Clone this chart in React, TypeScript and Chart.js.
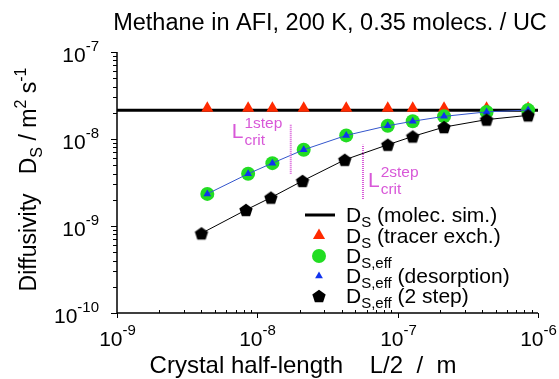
import React, { useEffect, useRef } from 'react';
import { Chart, registerables } from 'chart.js';

Chart.register(...registerables);

const W = 559;
const H = 379;

// ---- data ----
const crystalHalfLength = [4.4e-9, 8.6e-9, 1.28e-8, 2.14e-8, 4.3e-8, 8.5e-8, 1.28e-7, 2.14e-7, 4.3e-7, 8.5e-7];
const molecSimX = [1e-9, 1e-6];
const molecSimY = [2.14e-8, 2.14e-8];
const dsTracer = [2.25e-8, 2.25e-8, 2.25e-8, 2.25e-8, 2.25e-8, 2.25e-8, 2.25e-8, 2.25e-8, 2.25e-8, 2.25e-8];
const dsEff = [2.34e-9, 3.98e-9, 5.28e-9, 7.53e-9, 1.1e-8, 1.42e-8, 1.6e-8, 1.82e-8, 2.05e-8, 2.15e-8];
const dsEffDesorption = [2.34e-9, 3.98e-9, 5.28e-9, 7.53e-9, 1.1e-8, 1.42e-8, 1.6e-8, 1.82e-8, 2.05e-8, 2.15e-8];
const crystalHalfLength2Step = [4.0e-9, 8.3e-9, 1.25e-8, 2.1e-8, 4.2e-8, 8.5e-8, 1.28e-7, 2.14e-7, 4.3e-7, 8.5e-7];
const dsEff2Step = [8.24e-10, 1.53e-9, 2.12e-9, 3.3e-9, 5.77e-9, 8.59e-9, 1.07e-8, 1.37e-8, 1.67e-8, 1.87e-8];
const lCrit1StepX = [1.73e-8, 1.73e-8];
const lCrit1StepY = [3.98e-9, 1.5e-8];
const lCrit2StepX = [5.66e-8, 5.66e-8];
const lCrit2StepY = [2.05e-9, 8.59e-9];
const lCrit1LabelY = 1.04e-8;
const lCrit2LabelY = 2.82e-9;
const xTickExponents = [-9, -8, -7, -6];
const yTickExponents = [-10, -9, -8, -7];

const FONT = '"Liberation Sans", Arial, Helvetica, sans-serif';
const font = (s: number) => `${s}px ${FONT}`;
const MAGENTA = '#d858d8';
const RED = '#ff2a00';
const GREEN = '#22dd22';
const BLUE = '#1133ee';
const BLUELINE = '#3355cc';

type Part = { t: string; s: number; dy: number };

function richWidth(ctx: CanvasRenderingContext2D, parts: Part[]) {
  let w = 0;
  for (const p of parts) {
    ctx.font = font(p.s);
    w += ctx.measureText(p.t).width;
  }
  return w;
}

function drawRich(ctx: CanvasRenderingContext2D, parts: Part[], x: number, y: number, align: 'left' | 'center' | 'right' = 'left') {
  const w = richWidth(ctx, parts);
  let cx = align === 'center' ? x - w / 2 : align === 'right' ? x - w : x;
  ctx.textAlign = 'left';
  ctx.textBaseline = 'alphabetic';
  for (const p of parts) {
    ctx.font = font(p.s);
    ctx.fillText(p.t, cx, y + p.dy);
    cx += ctx.measureText(p.t).width;
  }
}

function makePentagon(r: number, color: string) {
  const c = document.createElement('canvas');
  const size = Math.ceil(r * 2 + 2);
  c.width = size;
  c.height = size;
  const g = c.getContext('2d')!;
  const cx = size / 2;
  const cy = size / 2 + r * 0.1;
  g.fillStyle = color;
  g.beginPath();
  for (let i = 0; i < 5; i++) {
    const a = -Math.PI / 2 + (i * 2 * Math.PI) / 5;
    const px = cx + r * Math.cos(a);
    const py = cy + r * Math.sin(a);
    if (i === 0) g.moveTo(px, py);
    else g.lineTo(px, py);
  }
  g.closePath();
  g.fill();
  return c;
}

function triangle(ctx: CanvasRenderingContext2D, x: number, y: number, r: number, color: string) {
  ctx.fillStyle = color;
  ctx.beginPath();
  ctx.moveTo(x, y - r);
  ctx.lineTo(x + 0.866 * r, y + 0.5 * r);
  ctx.lineTo(x - 0.866 * r, y + 0.5 * r);
  ctx.closePath();
  ctx.fill();
}

const pts = (xs: number[], ys: number[]) => xs.map((x, i) => ({ x, y: ys[i] }));

export default function App() {
  const ref = useRef<HTMLCanvasElement>(null);

  useEffect(() => {
    const canvas = ref.current!;
    const pent = makePentagon(7, '#000');

    const decor = {
      id: 'decor',
      afterDraw(chart: any) {
        const { ctx, chartArea } = chart;
        const xs = chart.scales.x;
        const ys = chart.scales.y;
        const L = chartArea.left;
        const R = chartArea.right;
        const T = chartArea.top;
        const B = chartArea.bottom;
        ctx.save();
        ctx.fillStyle = '#000';
        ctx.strokeStyle = '#000';
        ctx.lineWidth = 1.5;
        ctx.beginPath();
        ctx.moveTo(L, T);
        ctx.lineTo(L, B);
        ctx.lineTo(R, B);
        ctx.stroke();

        // x ticks
        ctx.lineWidth = 1;
        for (let i = 0; i < xTickExponents.length; i++) {
          const e = xTickExponents[i];
          const px = Math.round(xs.getPixelForValue(Math.pow(10, e))) + 0.5;
          ctx.beginPath();
          ctx.moveTo(px, B);
          ctx.lineTo(px, B + 5);
          ctx.stroke();
          if (i < xTickExponents.length - 1) {
            for (let k = 2; k <= 9; k++) {
              const mx = Math.round(xs.getPixelForValue(k * Math.pow(10, e))) + 0.5;
              ctx.beginPath();
              ctx.moveTo(mx, B);
              ctx.lineTo(mx, B - 3);
              ctx.stroke();
            }
          }
          drawRich(ctx, [{ t: '10', s: 21, dy: 0 }, { t: String(e), s: 15, dy: -11 }], px, B + 33, 'center');
        }
        // y ticks
        for (let i = 0; i < yTickExponents.length; i++) {
          const e = yTickExponents[i];
          const py = Math.round(ys.getPixelForValue(Math.pow(10, e))) + 0.5;
          ctx.beginPath();
          ctx.moveTo(L, py);
          ctx.lineTo(L - 6, py);
          ctx.stroke();
          if (i < yTickExponents.length - 1) {
            for (let k = 2; k <= 9; k++) {
              const my = Math.round(ys.getPixelForValue(k * Math.pow(10, e))) + 0.5;
              ctx.beginPath();
              ctx.moveTo(L, my);
              ctx.lineTo(L - 4, my);
              ctx.stroke();
            }
          }
          drawRich(ctx, [{ t: '10', s: 21, dy: 0 }, { t: String(e), s: 15, dy: -11 }], L - 18, py + 9, 'right');
        }

        // title
        drawRich(ctx, [{ t: 'Methane in AFI, 200 K, 0.35 molecs. / UC', s: 23.5, dy: 0 }], 330, 30, 'center');

        // x title
        drawRich(ctx, [{ t: 'Crystal half-length    L/2  /  m', s: 24, dy: 0 }], 303, 373, 'center');

        // y title
        ctx.save();
        ctx.translate(36, (T + B) / 2 - 3);
        ctx.rotate(-Math.PI / 2);
        drawRich(
          ctx,
          [
            { t: 'Diffusivity   D', s: 23, dy: 0 },
            { t: 'S', s: 16, dy: 6 },
            { t: ' / m', s: 23, dy: 0 },
            { t: '2', s: 16, dy: -10 },
            { t: ' s', s: 23, dy: 0 },
            { t: '-1', s: 16, dy: -10 },
          ],
          0,
          0,
          'center'
        );
        ctx.restore();

        // L_crit annotations
        ctx.fillStyle = MAGENTA;
        const ann = (lx: number, by: number, sup: string) => {
          ctx.font = font(21);
          ctx.textAlign = 'left';
          ctx.textBaseline = 'alphabetic';
          ctx.fillText('L', lx, by);
          const w = ctx.measureText('L').width + 1;
          ctx.font = font(15.5);
          ctx.fillText(sup, lx + w, by - 10);
          ctx.fillText('crit', lx + w, by + 7);
        };
        ann(xs.getPixelForValue(lCrit1StepX[0]) - 59, ys.getPixelForValue(lCrit1LabelY), '1step');
        ann(xs.getPixelForValue(lCrit2StepX[0]) + 5, ys.getPixelForValue(lCrit2LabelY), '2step');

        // legend
        const sx = 319;
        const tx = 346;
        const rows = [215, 235.5, 256, 276, 296];
        ctx.strokeStyle = '#000';
        ctx.lineWidth = 3;
        ctx.beginPath();
        ctx.moveTo(305, rows[0]);
        ctx.lineTo(335, rows[0]);
        ctx.stroke();
        triangle(ctx, sx, rows[1], 7, RED);
        ctx.fillStyle = GREEN;
        ctx.beginPath();
        ctx.arc(sx, rows[2], 7, 0, Math.PI * 2);
        ctx.fill();
        triangle(ctx, sx, rows[3], 4.5, BLUE);
        ctx.drawImage(pent, sx - pent.width / 2, rows[4] - pent.height / 2);

        ctx.fillStyle = '#000';
        const LS = 21;
        const SS = 15;
        drawRich(ctx, [{ t: 'D', s: LS, dy: 0 }, { t: 'S', s: SS, dy: 5 }, { t: ' (molec. sim.)', s: LS, dy: 0 }], tx, rows[0] + 7);
        drawRich(ctx, [{ t: 'D', s: LS, dy: 0 }, { t: 'S', s: SS, dy: 5 }, { t: ' (tracer exch.)', s: LS, dy: 0 }], tx, rows[1] + 7);
        drawRich(ctx, [{ t: 'D', s: LS, dy: 0 }, { t: 'S,eff', s: SS, dy: 5 }], tx, rows[2] + 7);
        drawRich(ctx, [{ t: 'D', s: LS, dy: 0 }, { t: 'S,eff', s: SS, dy: 5 }, { t: ' (desorption)', s: LS, dy: 0 }], tx, rows[3] + 7);
        drawRich(ctx, [{ t: 'D', s: LS, dy: 0 }, { t: 'S,eff', s: SS, dy: 5 }, { t: ' (2 step)', s: LS, dy: 0 }], tx, rows[4] + 7);

        ctx.restore();
      },
    };

    const chart = new Chart(canvas, {
      type: 'scatter',
      data: {
        datasets: [
          {
            label: 'DS (molec. sim.)',
            data: pts(molecSimX, molecSimY),
            showLine: true,
            borderColor: '#000',
            borderWidth: 3,
            pointRadius: 0,
            order: 6,
            clip: false,
          },
          {
            label: 'DS (tracer exch.)',
            data: pts(crystalHalfLength, dsTracer),
            showLine: false,
            pointStyle: 'triangle',
            pointRadius: 7,
            backgroundColor: RED,
            borderWidth: 0,
            pointBorderWidth: 0,
            order: 5,
            clip: false,
          },
          {
            label: 'DS,eff',
            data: pts(crystalHalfLength, dsEff),
            showLine: false,
            pointStyle: 'circle',
            pointRadius: 7,
            backgroundColor: GREEN,
            pointBorderWidth: 0,
            order: 4,
            clip: false,
          },
          {
            label: 'DS,eff (desorption)',
            data: pts(crystalHalfLength, dsEffDesorption),
            showLine: true,
            borderColor: BLUELINE,
            borderWidth: 1,
            pointStyle: 'triangle',
            pointRadius: 4.5,
            pointBackgroundColor: BLUE,
            pointBorderWidth: 0,
            order: 3,
            clip: false,
          },
          {
            label: 'DS,eff (2 step)',
            data: pts(crystalHalfLength2Step, dsEff2Step),
            showLine: true,
            borderColor: '#000',
            borderWidth: 1,
            pointStyle: pent as any,
            pointRadius: 7,
            order: 2,
            clip: false,
          },
          {
            label: 'Lcrit 1step',
            data: pts(lCrit1StepX, lCrit1StepY),
            showLine: true,
            borderColor: MAGENTA,
            borderWidth: 2,
            borderDash: [1, 1],
            pointRadius: 0,
            order: 1,
          },
          {
            label: 'Lcrit 2step',
            data: pts(lCrit2StepX, lCrit2StepY),
            showLine: true,
            borderColor: MAGENTA,
            borderWidth: 2,
            borderDash: [1, 1],
            pointRadius: 0,
            order: 1,
          },
        ],
      },
      options: {
        responsive: false,
        animation: false,
        devicePixelRatio: 1,
        events: [],
        layout: { padding: { left: 117, right: 21, top: 52, bottom: 66 } },
        plugins: {
          legend: { display: false },
          tooltip: { enabled: false },
          title: { display: false },
        },
        scales: {
          x: { type: 'logarithmic', min: 1e-9, max: 1e-6, display: false },
          y: { type: 'logarithmic', min: 1e-10, max: 1e-7, display: false },
        },
      },
      plugins: [decor as any],
    });
    return () => chart.destroy();
  }, []);

  return (
    <div style={{ position: 'absolute', left: 0, top: 0, width: W, height: H, background: '#fff' }}>
      <canvas ref={ref} width={W} height={H} style={{ display: 'block', width: W, height: H }} />
    </div>
  );
}
